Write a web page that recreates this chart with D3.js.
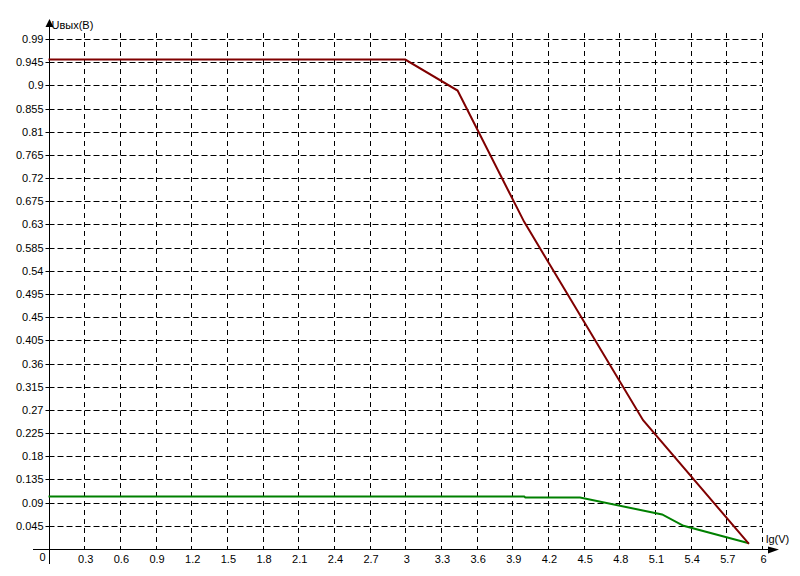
<!DOCTYPE html>
<html><head><meta charset="utf-8">
<script src="https://cdn.jsdelivr.net/npm/d3@7"></script>
<style>
body{margin:0;background:#fff;}
text{font-family:Arial,"Liberation Sans",sans-serif;font-size:11px;fill:#000;}
</style></head>
<body>
<svg id="chart" width="800" height="576"></svg>
<script>
const xTicks = [0.3,0.6,0.9,1.2,1.5,1.8,2.1,2.4,2.7,3,3.3,3.6,3.9,4.2,4.5,4.8,5.1,5.4,5.7,6];
const xTickLabels = ["0.3","0.6","0.9","1.2","1.5","1.8","2.1","2.4","2.7","3","3.3","3.6","3.9","4.2","4.5","4.8","5.1","5.4","5.7","6"];
const yTicks = [0.045,0.09,0.135,0.18,0.225,0.27,0.315,0.36,0.405,0.45,0.495,0.54,0.585,0.63,0.675,0.72,0.765,0.81,0.855,0.9,0.945,0.99];
const yTickLabels = ["0.045","0.09","0.135","0.18","0.225","0.27","0.315","0.36","0.405","0.45","0.495","0.54","0.585","0.63","0.675","0.72","0.765","0.81","0.855","0.9","0.945","0.99"];
const redX = [0, 3, 3.44, 4.0, 5.0, 5.89];
const redY = [0.95, 0.95, 0.89, 0.635, 0.25, 0.01];
const greenX = [0, 4.0, 4.01, 4.47, 5.16, 5.34, 5.89];
const greenY = [0.102, 0.102, 0.1, 0.1, 0.067, 0.045, 0.011];
const xTitle = "lg(V)";
const yTitle = "Uвых(В)";

const svg = d3.select("#chart");
const x = d3.scaleLinear().domain([0,6]).range([48.5,762]);
const y = d3.scaleLinear().domain([0,0.99]).range([549,39]);

// grid
const g = svg.append("g");
g.selectAll(".hg").data(yTicks).enter().append("line")
  .attr("x1", x(0)).attr("x2", x(6))
  .attr("y1", d=>Math.round(y(d))+0.5).attr("y2", d=>Math.round(y(d))+0.5)
  .attr("stroke","#000").attr("stroke-width",1).attr("stroke-dasharray","6,3");
g.selectAll(".vg").data(xTicks).enter().append("line")
  .attr("x1", d=>Math.round(x(d))+0.5).attr("x2", d=>Math.round(x(d))+0.5)
  .attr("y1", 33).attr("y2", y(0))
  .attr("stroke","#000").attr("stroke-width",1).attr("stroke-dasharray","5,4");

// y axis ticks and labels
const yAxis = d3.axisLeft(y).tickValues(yTicks).tickFormat((d,i)=>yTickLabels[i]).tickSize(4).tickPadding(2);
const ya = svg.append("g").attr("transform",`translate(${Math.round(x(0))+0.5},0)`).call(yAxis);
ya.select(".domain").remove();
ya.selectAll(".tick line").attr("stroke","#000");
ya.selectAll(".tick").attr("transform", d=>`translate(0,${Math.round(y(d))+0.5})`);
ya.selectAll("text").attr("font-size",11).attr("font-family","Arial,'Liberation Sans',sans-serif").attr("fill","#000");

// x axis labels
const xAxis = d3.axisBottom(x).tickValues(xTicks).tickFormat((d,i)=>xTickLabels[i]).tickSize(0).tickPadding(6);
const xa = svg.append("g").attr("transform",`translate(0,${y(0)})`).call(xAxis);
xa.select(".domain").remove();
xa.selectAll("text").attr("dx",1).attr("font-size",11).attr("font-family","Arial,'Liberation Sans',sans-serif").attr("fill","#000");

// zero label
svg.append("text").attr("x", x(0)-3).attr("y", 561).attr("text-anchor","end").text("0");

// axis lines
const ax0 = Math.round(x(0))+0.5, ay0 = Math.round(y(0))+0.5;
svg.append("line").attr("x1",ax0).attr("x2",ax0).attr("y1",22).attr("y2",564).attr("stroke","#000");
svg.append("line").attr("x1",33).attr("x2",772).attr("y1",ay0).attr("y2",ay0).attr("stroke","#000");
// arrows
svg.append("path").attr("d",`M${ax0-4},27 L${ax0+4},27 L${ax0},19 Z`).attr("fill","#000");
svg.append("path").attr("d",`M768,${ay0-3} L768,${ay0+4} L779,${ay0} Z`).attr("fill","#000");
svg.append("text").attr("x", ax0+2).attr("y", 29).text(yTitle);
svg.append("text").attr("x", 766).attr("y", 543).text(xTitle);

// series
const line = d3.line().x(d=>x(d[0])).y(d=>y(d[1]));
svg.append("path").datum(greenX.map((v,i)=>[v,greenY[i]]))
  .attr("d",line).attr("fill","none").attr("stroke","#008000").attr("stroke-width",2);
svg.append("path").datum(redX.map((v,i)=>[v,redY[i]]))
  .attr("d",line).attr("fill","none").attr("stroke","#800000").attr("stroke-width",2);
</script>
</body></html>
